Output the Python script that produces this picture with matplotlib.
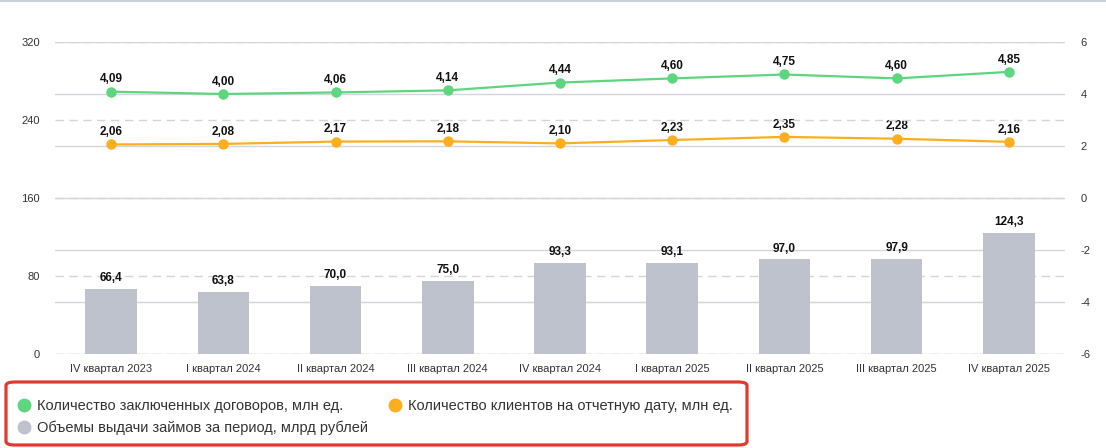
import matplotlib.pyplot as plt
from matplotlib.patches import FancyBboxPatch
from matplotlib.lines import Line2D
import numpy as np

# данные
quarters = ['IV квартал 2023', 'I квартал 2024', 'II квартал 2024', 'III квартал 2024',
            'IV квартал 2024', 'I квартал 2025', 'II квартал 2025', 'III квартал 2025',
            'IV квартал 2025']
loans = [66.4, 63.8, 70.0, 75.0, 93.3, 93.1, 97.0, 97.9, 124.3]
contracts = [4.09, 4.00, 4.06, 4.14, 4.44, 4.60, 4.75, 4.60, 4.85]
clients = [2.06, 2.08, 2.17, 2.18, 2.10, 2.23, 2.35, 2.28, 2.16]

green = '#5ED67F'
orange = '#FBAF1F'
grey = '#BEC2CD'
gridc = '#D3D5DC'

def fmt(v, nd):
    return f'{v:.{nd}f}'.replace('.', ',')

plt.rcParams['font.family'] = ['Liberation Sans', 'DejaVu Sans']
plt.rcParams['axes.unicode_minus'] = False

fig = plt.figure(figsize=(11.06, 4.48), dpi=100)
W, H = 1106, 448
ax = fig.add_axes([55 / W, 94 / H, 1010 / W, 312 / H])
ax2 = ax.twinx()
ax.set_zorder(ax2.get_zorder() + 1)
ax.patch.set_visible(False)

x = np.arange(len(quarters))

# столбцы
ax.bar(x, loans, width=0.46, color=grey, zorder=2)
for xi, v in zip(x, loans):
    ax.annotate(fmt(v, 1), (xi, v), xytext=(0, 3.5), textcoords='offset points',
                ha='center', va='bottom', fontsize=8.5, fontweight='bold', color='#111')
ax.set_ylim(0, 320)
ax.set_yticks([0, 80, 160, 240, 320])
ax.set_xlim(-0.5, len(quarters) - 0.5)
ax.set_xticks(x)
ax.set_xticklabels(quarters)
ax.yaxis.grid(True, color=gridc, linestyle=(0, (6, 4)), linewidth=1, zorder=0)
ax.set_axisbelow(True)

# линии
ax2.plot(x, contracts, color=green, linewidth=1.6, marker='o', markersize=6.5)
ax2.plot(x, clients, color=orange, linewidth=1.6, marker='o', markersize=6.5)
for xi, v in zip(x, contracts):
    ax2.annotate(fmt(v, 2), (xi, v), xytext=(0, 4.5), textcoords='offset points',
                 ha='center', va='bottom', fontsize=8.5, fontweight='bold', color='#111')
for xi, v in zip(x, clients):
    ax2.annotate(fmt(v, 2), (xi, v), xytext=(0, 4.5), textcoords='offset points',
                 ha='center', va='bottom', fontsize=8.5, fontweight='bold', color='#111')
ax2.set_ylim(-6, 6)
ax2.set_yticks([-6, -4, -2, 0, 2, 4, 6])
ax2.yaxis.grid(True, color=gridc, linewidth=1)

for a in (ax, ax2):
    for s in a.spines.values():
        s.set_visible(False)
    a.tick_params(length=0, labelsize=8, colors='#333333')
ax.tick_params(axis='y', pad=11)
ax2.tick_params(axis='y', pad=11)
ax.tick_params(axis='x', pad=7)

# линия сверху
fig.add_artist(Line2D([0, 1], [1 - 0.8 / H, 1 - 0.8 / H], color='#C9D1DB', linewidth=1.5))

# легенда
handles = [
    Line2D([], [], linestyle='none', marker='o', markersize=9, color=green),
    Line2D([], [], linestyle='none', marker='o', markersize=9, color=grey),
    Line2D([], [], linestyle='none', marker='o', markersize=9, color=orange),
]
labels = ['Количество заключенных договоров, млн ед.',
          'Объемы выдачи займов за период, млрд рублей',
          'Количество клиентов на отчетную дату, млн ед.']
fig.legend(handles, labels, loc='upper left', bbox_to_anchor=(5 / W, 1 - 386 / H),
           ncol=2, frameon=False, fontsize=10.5, handlelength=0.8, handletextpad=0.5,
           columnspacing=1.45, labelspacing=0.5, labelcolor='#333333')
box = FancyBboxPatch((6 / W, 3 / H), 741 / W, 63 / H,
                     boxstyle='round,pad=0,rounding_size=0.008',
                     transform=fig.transFigure, fill=False, edgecolor='#E03A30', linewidth=2.3)
fig.add_artist(box)

fig.savefig('out.png', dpi=100)
